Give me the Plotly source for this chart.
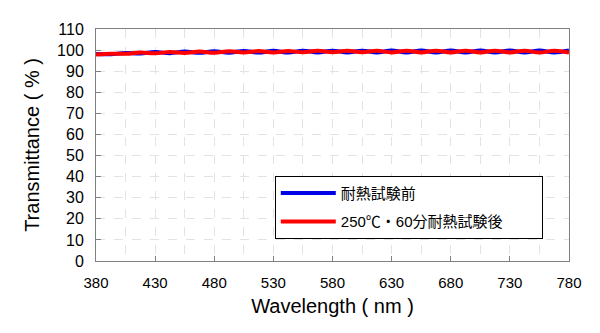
import plotly.graph_objects as go

wavelength = [380, 392.5, 405, 417.5, 430, 442.5, 455, 467.5, 480, 492.5, 505, 517.5,
              530, 542.5, 555, 567.5, 580, 592.5, 605, 617.5, 630, 642.5, 655, 667.5,
              680, 692.5, 705, 717.5, 730, 742.5, 755, 767.5, 780]

before = [98.1, 98.05, 98.6, 98.35, 99.05, 98.55, 99.3, 98.7, 99.5, 98.75, 99.6, 98.8,
          99.65, 98.85, 99.7, 98.9, 99.7, 98.9, 99.7, 98.9, 99.75, 98.85, 99.75, 98.85,
          99.75, 98.85, 99.75, 98.85, 99.75, 98.85, 99.8, 98.85, 99.8]

after = [97.95, 98.3, 98.25, 98.8, 98.5, 99.1, 98.65, 99.3, 98.75, 99.5, 98.85, 99.55,
         98.9, 99.6, 98.95, 99.65, 98.95, 99.65, 98.95, 99.65, 98.9, 99.7, 98.9, 99.7,
         98.9, 99.7, 98.9, 99.7, 98.9, 99.7, 98.85, 99.7, 98.9]

names = ["耐熱試験前", "250℃・60分耐熱試験後"]
x_ticks = [380, 430, 480, 530, 580, 630, 680, 730, 780]
y_ticks = list(range(0, 111, 10))

FONT = "Liberation Sans, Arial, Noto Sans CJK JP, sans-serif"
PAD = "\u00a0" * 8

fig = go.Figure()
fig.add_trace(go.Scatter(x=wavelength, y=before, mode="lines", name=names[0] + PAD,
                         line=dict(color="#0000e6", width=4, shape="spline"),
                         legendgroup="a"))
fig.add_trace(go.Scatter(x=wavelength, y=after, mode="lines", name=names[1] + PAD,
                         line=dict(color="#ff0000", width=4, shape="spline"),
                         legendgroup="b"))

fig.update_layout(
    width=600, height=333,
    margin=dict(l=96, r=31, t=29, b=72),
    paper_bgcolor="white", plot_bgcolor="white",
    font=dict(family=FONT, color="black"),
    legend=dict(x=0.378, y=0.367, xanchor="left", yanchor="top",
                bordercolor="black", borderwidth=1, bgcolor="white",
                font=dict(size=15, family="Liberation Sans, Noto Sans CJK JP"),
                tracegroupgap=6, traceorder="grouped", itemwidth=55),
    showlegend=True,
)

fig.update_xaxes(
    range=[380, 780], tickvals=x_ticks, ticktext=[str(v) for v in x_ticks],
    showline=True, linecolor="#808080", linewidth=1, mirror=True,
    ticks="inside", ticklen=5, tickcolor="#808080",
    tickfont=dict(size=15), ticklabelstandoff=8,
    showgrid=True, gridcolor="#e3e3e3", griddash="dash", gridwidth=1,
    minor=dict(dtick=25, tick0=380, showgrid=True, gridcolor="#e3e3e3", griddash="dash"),
    zeroline=False,
    title=dict(text="Wavelength ( nm )", font=dict(size=20), standoff=8),
)
fig.update_yaxes(
    range=[0, 110], tickvals=y_ticks,
    showline=True, linecolor="#808080", linewidth=1, mirror=True,
    ticks="inside", ticklen=5, tickcolor="#808080",
    tickfont=dict(size=16), ticklabelstandoff=8,
    showgrid=True, gridcolor="#e3e3e3", griddash="dash", gridwidth=1,
    zeroline=False,
    title=dict(text="Transmittance ( % )", font=dict(size=20), standoff=12),
)

fig.write_html("out.html")
